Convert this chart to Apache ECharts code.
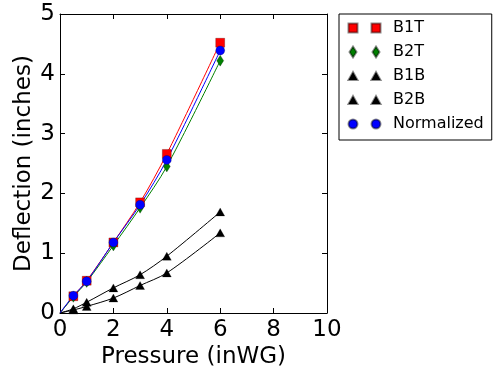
<!DOCTYPE html>
<html>
<head>
<meta charset="utf-8">
<script src="https://cdn.jsdelivr.net/npm/echarts@6/dist/echarts.min.js"></script>
<style>
  html, body { margin: 0; padding: 0; background: #fff; }
  #chart { width: 493px; height: 375px; }
</style>
</head>
<body>
<div id="chart"></div>
<script>
// Deflection measurements against applied pressure
const pressure   = [0, 0.5, 1, 2, 3, 4, 6];
const b1t        = [0, 0.28, 0.54, 1.18, 1.85, 2.66, 4.52];
const b2t        = [0, 0.27, 0.52, 1.13, 1.76, 2.45, 4.22];
const b1b        = [0, 0.07, 0.18, 0.42, 0.64, 0.95, 1.69];
const b2b        = [0, 0.05, 0.11, 0.25, 0.46, 0.67, 1.34];
const normalized = [0, 0.29, 0.53, 1.18, 1.81, 2.56, 4.39];

const xRange = { min: 0, max: 10, step: 2 };
const yRange = { min: 0, max: 5, step: 1 };

const FONT = 'DejaVu Sans';

function pairs(ys) { return pressure.map((x, i) => [x, ys[i]]); }
// markers sitting on the origin are hidden by the axes corner
function markerPairs(ys) { return pairs(ys).filter(p => p[0] > 0); }

// legend icons: two markers side by side in a 40x12 box
const box = 'M0,0L0,0Z M40,12L40,12Z ';
const icons = {
  square:   'path://' + box + 'M0.5,1.5h9v9h-9Z M23.5,1.5h9v9h-9Z',
  diamond:  'path://' + box + 'M5,0.5L8.5,6L5,11.5L1.5,6Z M28,0.5L31.5,6L28,11.5L24.5,6Z',
  triangle: 'path://' + box + 'M5,2L9.5,10L0.5,10Z M28,2L32.5,10L23.5,10Z',
  circle:   'path://' + box + 'M0.5,6A4.5,4.5 0 1,0 9.5,6A4.5,4.5 0 1,0 0.5,6Z M23.5,6A4.5,4.5 0 1,0 32.5,6A4.5,4.5 0 1,0 23.5,6Z'
};

const sets = [
  { name: 'B1T', ys: b1t, color: '#ff0000', symbol: 'rect', size: 9, icon: icons.square },
  { name: 'B2T', ys: b2t, color: '#008000', symbol: 'diamond', size: [7, 11], icon: icons.diamond },
  { name: 'B1B', ys: b1b, color: '#000000', symbol: 'triangle', size: [9, 8], icon: icons.triangle },
  { name: 'B2B', ys: b2b, color: '#000000', symbol: 'triangle', size: [9, 8], icon: icons.triangle },
  { name: 'Normalized', ys: normalized, color: '#0000ff', symbol: 'circle', size: 9, icon: icons.circle }
];

const axisCommon = {
  axisLine: { show: true, onZero: false, lineStyle: { color: '#000', width: 1 } },
  axisTick: { show: true, inside: true, length: 5, lineStyle: { color: '#000', width: 1 } },
  splitLine: { show: false }
};

const series = [];
sets.forEach(s => {
  series.push({
    type: 'line',
    data: pairs(s.ys),
    smooth: 0.3,
    showSymbol: false,
    symbol: 'none',
    lineStyle: { color: s.color, width: 1 },
    z: 2,
    silent: true
  });
});
sets.forEach(s => {
  series.push({
    type: 'scatter',
    name: s.name,
    data: markerPairs(s.ys),
    symbol: s.symbol,
    symbolSize: s.size,
    itemStyle: { color: s.color, opacity: 1, borderColor: 'rgba(0,0,0,0.45)', borderWidth: 0.5 },
    z: 3
  });
});

const chart = echarts.init(document.getElementById('chart'), null, { renderer: 'canvas' });
chart.setOption({
  animation: false,
  backgroundColor: '#fff',
  textStyle: { fontFamily: FONT },
  grid: { left: 60, right: 166, top: 14, bottom: 62, containLabel: false },
  xAxis: [
    Object.assign({
      type: 'value', position: 'bottom',
      min: xRange.min, max: xRange.max, interval: xRange.step,
      axisLabel: { fontFamily: FONT, fontSize: 23, color: '#000', margin: 6 },
      name: 'Pressure (inWG)', nameLocation: 'middle', nameGap: 33, nameMoveOverlap: false,
      nameTextStyle: { fontFamily: FONT, fontSize: 23, color: '#000' }
    }, axisCommon),
    Object.assign({
      type: 'value', position: 'top',
      min: xRange.min, max: xRange.max, interval: xRange.step,
      axisLabel: { show: false }
    }, axisCommon)
  ],
  yAxis: [
    Object.assign({
      type: 'value', position: 'left',
      min: yRange.min, max: yRange.max, interval: yRange.step,
      axisLabel: { fontFamily: FONT, fontSize: 23, color: '#000', margin: 5 },
      name: 'Deflection (inches)', nameLocation: 'middle', nameGap: 24, nameMoveOverlap: false,
      nameTextStyle: { fontFamily: FONT, fontSize: 23, color: '#000' }
    }, axisCommon),
    Object.assign({
      type: 'value', position: 'right',
      min: yRange.min, max: yRange.max, interval: yRange.step,
      axisLabel: { show: false }
    }, axisCommon)
  ],
  legend: {
    orient: 'vertical',
    left: 339, top: 14,
    padding: [5, 8, 7, 8],
    itemWidth: 40, itemHeight: 12, itemGap: 6,
    borderColor: '#000', borderWidth: 1,
    textStyle: { fontFamily: FONT, fontSize: 16, lineHeight: 18, color: '#000' },
    data: sets.map(s => ({ name: s.name, icon: s.icon }))
  },
  series: series
});
</script>
</body>
</html>
